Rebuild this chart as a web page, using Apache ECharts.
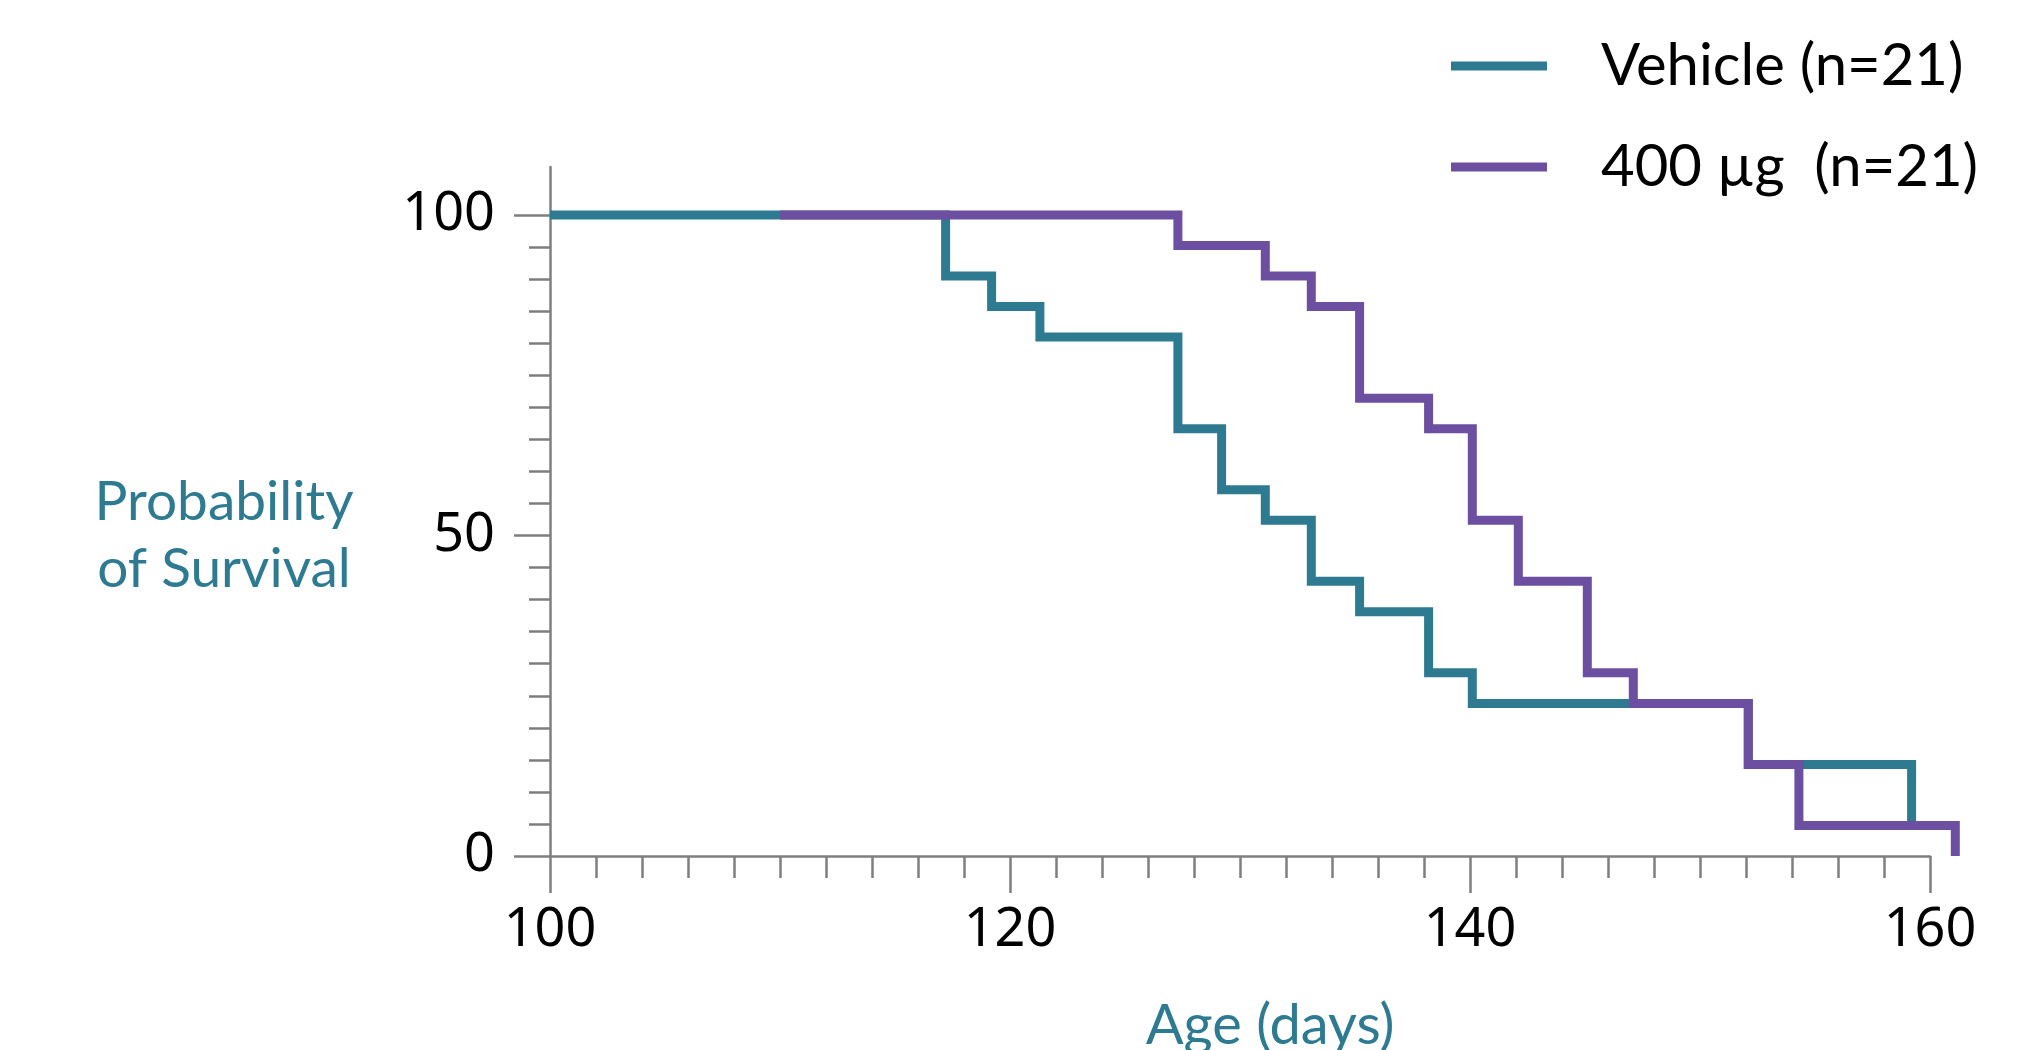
<!DOCTYPE html>
<html>
<head>
<meta charset="utf-8">
<script src="https://cdn.jsdelivr.net/npm/echarts@6.0.0/dist/echarts.min.js"></script>
<style>
  html, body { margin: 0; padding: 0; background: #fff; }
  #chart { width: 2028px; height: 1050px; }
</style>
</head>
<body>
<div id="chart"></div>
<script>
// Kaplan-Meier steps (age in days, % surviving)
const vehicleDays = [100, 117.2, 119.2, 121.3, 127.3, 129.2, 131.1, 133.1, 135.2, 138.2, 140.1, 152.1, 159.2];
const vehicleSurv = [100, 90.48, 85.71, 80.95, 66.67, 57.14, 52.38, 42.86, 38.10, 28.57, 23.81, 14.29, 4.76];
const doseDays = [110, 127.3, 131.1, 133.1, 135.2, 138.2, 140.1, 142.1, 145.1, 147.1, 152.1, 154.3, 161.1];
const doseSurv = [100, 95.24, 90.48, 85.71, 71.43, 66.67, 52.38, 42.86, 28.57, 23.81, 14.29, 4.76, 0];

const seriesNames = ['Vehicle (n=21)', '400 µg  (n=21)'];
const xTicks = { min: 100, max: 160, step: 20 };
const yTicks = { min: 0, max: 100, step: 50 };

const TEAL = '#2e7b91';
const PURPLE = '#6c4fa0';
const AXIS = '#7f7f7f';
const TEXT_FONT = 'Lato, "Noto Sans", sans-serif';
const NUM_FONT = '"Noto Sans", "Open Sans", sans-serif';

const zip = (xs, ys) => xs.map((x, i) => [x, ys[i]]);

const chart = echarts.init(document.getElementById('chart'));

// plot area: 1380px for 60 days -> 23px per day
const LEFT = 550, RIGHT = 98, TOP = 215, BOTTOM = 194;
const PX_PER_DAY = (2028 - LEFT - RIGHT) / (xTicks.max - xTicks.min);
const dataXMax = 162; // last purple drop sits past the 160 end of the axis

const legendItem = (name, top) => ({
  data: [name],
  left: 1451,
  top,
  padding: 0,
  icon: 'rect',
  itemWidth: 96,
  itemHeight: 9,
  selectedMode: false,
  textStyle: { color: '#000', fontSize: 58, fontFamily: TEXT_FONT, padding: [0, 0, 0, 49] },
});

const tickLine = { color: AXIS, width: 2.5 };

chart.setOption({
  animation: false,
  backgroundColor: '#fff',
  legend: [legendItem(seriesNames[0], 37), legendItem(seriesNames[1], 138)],
  grid: [
    { left: LEFT, right: RIGHT, top: TOP, bottom: BOTTOM, outerBoundsMode: 'none' },
    // only carries the y axis line above 100
    { left: LEFT, right: RIGHT, top: 167, bottom: BOTTOM, outerBoundsMode: 'none' },
    // data grid, same scale, wider so the last step is not cut
    { left: LEFT, right: RIGHT - (dataXMax - xTicks.max) * PX_PER_DAY, top: TOP, bottom: BOTTOM, outerBoundsMode: 'none' },
  ],
  xAxis: [
    {
      type: 'value',
      gridIndex: 0,
      min: xTicks.min,
      max: xTicks.max,
      interval: xTicks.step,
      name: 'Age (days)',
      nameLocation: 'middle',
      nameGap: 142,
      nameTextStyle: { color: TEAL, fontSize: 56, fontFamily: TEXT_FONT, padding: [0, 0, 0, 60] },
      axisLine: { lineStyle: tickLine },
      axisTick: { length: 37, lineStyle: tickLine },
      minorTick: { show: true, splitNumber: 10, length: 22, lineStyle: tickLine },
      axisLabel: { color: '#000', fontSize: 54, fontFamily: NUM_FONT, margin: 48 },
      splitLine: { show: false },
    },
    { type: 'value', gridIndex: 1, show: false, min: 0, max: 1 },
    { type: 'value', gridIndex: 2, show: false, min: xTicks.min, max: dataXMax },
  ],
  yAxis: [
    {
      type: 'value',
      gridIndex: 0,
      min: yTicks.min,
      max: yTicks.max,
      interval: yTicks.step,
      name: 'Probability\nof Survival',
      nameLocation: 'middle',
      nameRotate: 0,
      nameGap: 326,
      nameTextStyle: { color: TEAL, fontSize: 55, lineHeight: 67, fontFamily: TEXT_FONT, align: 'center' },
      axisLine: { show: false },
      axisTick: { length: 36, lineStyle: tickLine },
      minorTick: { show: true, splitNumber: 10, length: 21, lineStyle: tickLine },
      axisLabel: { color: '#000', fontSize: 54, fontFamily: NUM_FONT, margin: 55 },
      splitLine: { show: false },
    },
    {
      type: 'value',
      gridIndex: 1,
      min: 0,
      max: 1,
      axisLine: { show: true, onZero: false, lineStyle: tickLine },
      axisTick: { show: false },
      axisLabel: { show: false },
      splitLine: { show: false },
    },
    { type: 'value', gridIndex: 2, show: false, min: yTicks.min, max: yTicks.max },
  ],
  series: [
    {
      name: seriesNames[0],
      type: 'line',
      xAxisIndex: 2,
      yAxisIndex: 2,
      step: 'end',
      clip: false,
      symbol: 'none',
      data: zip(vehicleDays, vehicleSurv),
      lineStyle: { color: TEAL, width: 9, join: 'miter', cap: 'butt' },
      itemStyle: { color: TEAL },
    },
    {
      name: seriesNames[1],
      type: 'line',
      xAxisIndex: 2,
      yAxisIndex: 2,
      step: 'end',
      clip: false,
      symbol: 'none',
      data: zip(doseDays, doseSurv),
      lineStyle: { color: PURPLE, width: 9, join: 'miter', cap: 'butt' },
      itemStyle: { color: PURPLE },
    },
  ],
});
</script>
</body>
</html>
